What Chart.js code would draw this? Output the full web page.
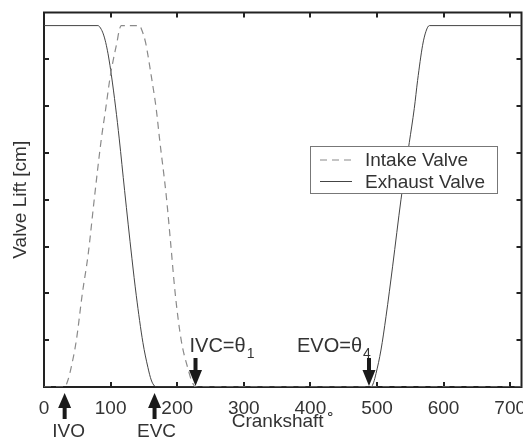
<!DOCTYPE html>
<html>
<head>
<meta charset="utf-8">
<script src="https://cdn.jsdelivr.net/npm/chart.js@4"></script>
<style>
  html, body { margin: 0; padding: 0; background: #fff; }
</style>
</head>
<body>
<canvas id="valveChart" width="523" height="439"></canvas>
<script>
// values (crank angle in degrees, lift in axis units)
const intakeCrank = [0, 31, 36, 41, 48.6, 57.6, 66, 76, 86, 92.5, 99.6, 104.6, 109.5, 113, 116,
  143.5, 147, 152.5, 161, 168.6, 173.6, 183.6, 190, 197, 206, 216, 222, 228, 717];
const intakeLift = [0, 0, 0.15, 0.43, 1.0, 2.0, 2.8, 4.08, 5.29, 5.93, 6.65, 7.03, 7.36, 7.62, 7.72,
  7.72, 7.62, 7.36, 6.65, 5.93, 5.29, 4.08, 3.1, 2.0, 1.0, 0.4, 0.12, 0, 0];

const exhaustCrank = [0, 81, 86, 90, 93.6, 97, 101, 107.5, 113, 121, 132, 138.6, 148.5, 156, 161, 166, 170,
  491, 495, 498.6, 506, 513.6, 523.5, 536, 548.5, 556, 561, 568.5, 573.6, 578.6, 717];
const exhaustLift = [7.72, 7.72, 7.64, 7.5, 7.3, 7.05, 6.68, 5.98, 5.3, 4.2, 2.75, 1.95, 0.95, 0.42, 0.15, 0.02, 0,
  0, 0.1, 0.29, 0.79, 1.51, 2.58, 4.0, 5.22, 5.95, 6.55, 7.3, 7.6, 7.72, 7.72];

const xTicks = [0, 100, 200, 300, 400, 500, 600, 700];
const yTicks = [1, 2, 3, 4, 5, 6, 7];
const seriesNames = ["Intake Valve", "Exhaust Valve"];

// valve events marked with arrows
const eventNames = ["IVO", "EVC", "IVC=θ", "EVO=θ"];
const eventSubs = ["", "", "1", "4"];
const eventCrank = [31, 166, 227.5, 488];
const eventTextDx = [4, 2, -6, -72];

const FONT = "'Liberation Sans', Arial, sans-serif";
const INK = "#333";

function toPoints(xs, ys) {
  return xs.map((x, i) => ({ x: x, y: ys[i] }));
}

// box round the plot with inward tick marks
const frame = {
  id: "frame",
  beforeDatasetsDraw(chart) {
    const { ctx, chartArea: a, scales } = chart;
    ctx.save();
    ctx.strokeStyle = "#222";
    ctx.lineWidth = 2;
    ctx.strokeRect(a.left, a.top, a.right - a.left, a.bottom - a.top);
    ctx.beginPath();
    xTicks.slice(1).forEach(v => {
      const x = Math.round(scales.x.getPixelForValue(v));
      ctx.moveTo(x, a.top); ctx.lineTo(x, a.top + 5);
      ctx.moveTo(x, a.bottom); ctx.lineTo(x, a.bottom - 5);
    });
    yTicks.forEach(v => {
      const y = Math.round(scales.y.getPixelForValue(v));
      ctx.moveTo(a.left, y); ctx.lineTo(a.left + 5, y);
      ctx.moveTo(a.right, y); ctx.lineTo(a.right - 5, y);
    });
    ctx.stroke();
    ctx.restore();
  }
};

// legend box inside the plot
const boxLegend = {
  id: "boxLegend",
  afterDatasetsDraw(chart) {
    const { ctx, chartArea: a } = chart;
    const bx = a.left + 266, by = a.top + 133.5, bw = 187, bh = 47;
    ctx.save();
    ctx.fillStyle = "#fff";
    ctx.fillRect(bx, by, bw, bh);
    ctx.strokeStyle = "#777";
    ctx.lineWidth = 1;
    ctx.strokeRect(bx + 0.5, by + 0.5, bw, bh);
    chart.data.datasets.forEach((ds, i) => {
      const y = by + 14 + i * 21.5;
      ctx.strokeStyle = ds.borderColor;
      ctx.lineWidth = ds.borderWidth;
      ctx.setLineDash(ds.borderDash || []);
      ctx.beginPath();
      ctx.moveTo(bx + 10, y); ctx.lineTo(bx + 42, y);
      ctx.stroke();
      ctx.setLineDash([]);
      ctx.fillStyle = INK;
      ctx.font = "19px " + FONT;
      ctx.textBaseline = "middle";
      ctx.fillText(ds.label, bx + 55, y + 1);
    });
    ctx.restore();
  }
};

// arrows and labels for IVO / EVC / IVC / EVO
const events = {
  id: "events",
  afterDraw(chart) {
    const { ctx, scales } = chart;
    ctx.save();
    eventNames.forEach((name, i) => {
      const x = scales.x.getPixelForValue(eventCrank[i]);
      ctx.fillStyle = "#1a1a1a";
      ctx.beginPath();
      if (eventSubs[i]) {
        ctx.fillRect(x - 2, 358, 4, 14);
        ctx.moveTo(x - 6.5, 370); ctx.lineTo(x + 6.5, 370); ctx.lineTo(x, 386);
      } else {
        ctx.fillRect(x - 2, 405, 4, 14);
        ctx.moveTo(x - 6.5, 408); ctx.lineTo(x + 6.5, 408); ctx.lineTo(x, 393);
      }
      ctx.closePath();
      ctx.fill();
      ctx.fillStyle = INK;
      ctx.textBaseline = "alphabetic";
      if (eventSubs[i]) {
        ctx.font = "20px " + FONT;
        ctx.textAlign = "left";
        const tx = x + eventTextDx[i];
        ctx.fillText(name, tx, 352);
        const w = ctx.measureText(name).width;
        ctx.font = "14px " + FONT;
        ctx.fillText(eventSubs[i], tx + w + 1, 358);
      } else {
        ctx.font = "19px " + FONT;
        ctx.textAlign = "center";
        ctx.fillText(name, x + eventTextDx[i], 437);
      }
    });
    ctx.restore();
  }
};

const config = {
  type: "line",
  data: {
    datasets: [
      {
        label: seriesNames[0],
        data: toPoints(intakeCrank, intakeLift),
        borderColor: "#8a8a8a",
        borderWidth: 1.2,
        borderDash: [7, 5],
        pointRadius: 0,
        cubicInterpolationMode: "monotone",
      },
      {
        label: seriesNames[1],
        data: toPoints(exhaustCrank, exhaustLift),
        borderColor: "#444",
        borderWidth: 1,
        pointRadius: 0,
        cubicInterpolationMode: "monotone",
      },
    ],
  },
  options: {
    responsive: false,
    animation: false,
    devicePixelRatio: 1,
    layout: { padding: { top: 12.5, right: 1.5, bottom: 0, left: 0 } },
    scales: {
      x: {
        type: "linear",
        min: 0,
        max: 717,
        afterFit(s) { s.height = 52; s.paddingLeft = 0; s.paddingRight = 0; },
        afterBuildTicks(s) { s.ticks = xTicks.map(v => ({ value: v })); },
        grid: { display: false, drawTicks: false },
        border: { display: false },
        ticks: { padding: 10, color: INK, font: { family: FONT, size: 19 }, autoSkip: false, maxRotation: 0 },
        title: {
          display: true,
          text: "Crankshaft\u2009˚",
          color: INK,
          font: { family: FONT, size: 19 },
          padding: { top: 0, bottom: 5.5 },
        },
      },
      y: {
        min: 0,
        max: 8,
        afterFit(s) { s.width = 44; },
        grid: { display: false, drawTicks: false },
        border: { display: false },
        ticks: { display: false, stepSize: 1 },
        title: {
          display: true,
          text: "Valve Lift [cm]",
          color: INK,
          font: { family: FONT, size: 19 },
          padding: { top: 9, bottom: 0 },
        },
      },
    },
    plugins: {
      legend: { display: false },
      tooltip: { enabled: false },
    },
  },
  plugins: [frame, boxLegend, events],
};

const valveChart = new Chart(document.getElementById("valveChart"), config);
</script>
</body>
</html>
